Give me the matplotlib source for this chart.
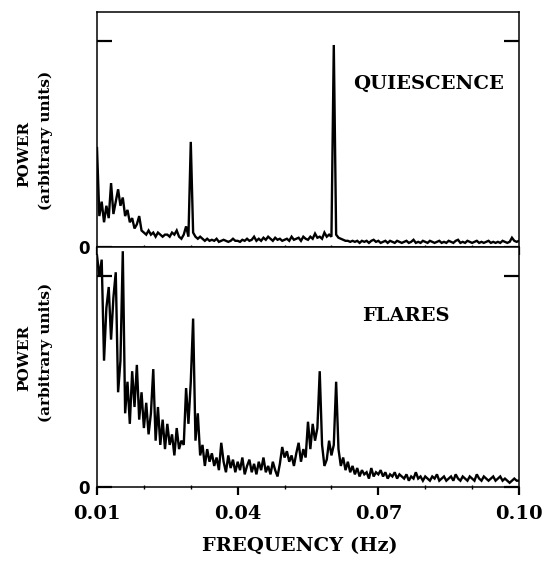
import numpy as np
import matplotlib
matplotlib.use("Agg")
import matplotlib.pyplot as plt
from matplotlib.ticker import MultipleLocator

# Frequency grid (Hz), 0.0005 Hz spacing from 0.010 to 0.100
freq_start = 0.010
freq_step = 0.0005

# Power spectrum during quiescence (arbitrary units)
power_quiet = [
    0.48, 0.15, 0.22, 0.12, 0.20, 0.14, 0.31, 0.16, 0.22, 0.28,
    0.20, 0.24, 0.15, 0.18, 0.12, 0.14, 0.09, 0.11, 0.15, 0.08,
    0.07, 0.06, 0.08, 0.06, 0.07, 0.05, 0.07, 0.06, 0.05, 0.06,
    0.06, 0.05, 0.07, 0.06, 0.08, 0.05, 0.04, 0.06, 0.10, 0.05,
    0.51, 0.07, 0.05, 0.04, 0.05, 0.04, 0.03, 0.04, 0.03, 0.035,
    0.03, 0.04, 0.025, 0.03, 0.035, 0.03, 0.025, 0.03, 0.04, 0.03,
    0.03, 0.025, 0.035, 0.03, 0.04, 0.03, 0.035, 0.05, 0.03, 0.04,
    0.03, 0.045, 0.035, 0.05, 0.04, 0.03, 0.045, 0.035, 0.04, 0.03,
    0.035, 0.04, 0.03, 0.05, 0.035, 0.04, 0.045, 0.03, 0.05, 0.04,
    0.035, 0.05, 0.04, 0.065, 0.045, 0.05, 0.04, 0.07, 0.05, 0.06,
    0.05, 0.98, 0.06, 0.045, 0.04, 0.035, 0.03, 0.03, 0.025, 0.03,
    0.025, 0.03, 0.02, 0.03, 0.025, 0.03, 0.02, 0.03, 0.035, 0.025,
    0.03, 0.02, 0.025, 0.03, 0.02, 0.03, 0.025, 0.02, 0.03, 0.025,
    0.02, 0.025, 0.03, 0.02, 0.025, 0.035, 0.02, 0.025, 0.02, 0.03,
    0.025, 0.02, 0.03, 0.025, 0.02, 0.025, 0.03, 0.02, 0.025, 0.02,
    0.03, 0.025, 0.02, 0.03, 0.035, 0.02, 0.025, 0.02, 0.03, 0.025,
    0.02, 0.025, 0.03, 0.02, 0.025, 0.02, 0.025, 0.03, 0.02, 0.025,
    0.02, 0.025, 0.02, 0.03, 0.025, 0.02, 0.025, 0.045, 0.03, 0.025,
    0.03,
]

# Power spectrum during flares (arbitrary units)
power_flares = [
    1.10, 1.00, 1.08, 0.60, 0.85, 0.95, 0.70, 0.90, 1.02, 0.45,
    0.60, 1.12, 0.35, 0.50, 0.30, 0.55, 0.38, 0.58, 0.32, 0.45,
    0.28, 0.40, 0.25, 0.35, 0.56, 0.22, 0.38, 0.20, 0.32, 0.18,
    0.30, 0.20, 0.25, 0.15, 0.28, 0.18, 0.22, 0.20, 0.47, 0.30,
    0.50, 0.80, 0.22, 0.35, 0.15, 0.20, 0.10, 0.18, 0.12, 0.16,
    0.10, 0.14, 0.08, 0.21, 0.12, 0.07, 0.15, 0.09, 0.13, 0.07,
    0.12, 0.08, 0.14, 0.06, 0.10, 0.13, 0.07, 0.11, 0.06, 0.12,
    0.08, 0.14, 0.07, 0.10, 0.06, 0.12, 0.08, 0.05, 0.11, 0.19,
    0.14, 0.17, 0.12, 0.15, 0.10, 0.16, 0.21, 0.12, 0.18, 0.14,
    0.31, 0.18, 0.30, 0.22, 0.28, 0.55, 0.20, 0.10, 0.13, 0.22,
    0.15, 0.20, 0.50, 0.18, 0.10, 0.14, 0.08, 0.12, 0.07, 0.10,
    0.06, 0.09, 0.05, 0.08, 0.06, 0.07, 0.04, 0.09, 0.05, 0.07,
    0.06, 0.08, 0.05, 0.07, 0.04, 0.06, 0.05, 0.07, 0.04, 0.06,
    0.05, 0.04, 0.06, 0.03, 0.05, 0.04, 0.07, 0.04, 0.05, 0.03,
    0.05, 0.04, 0.03, 0.05, 0.04, 0.06, 0.03, 0.04, 0.05, 0.03,
    0.04, 0.05, 0.03, 0.06, 0.04, 0.03, 0.05, 0.04, 0.03, 0.05,
    0.04, 0.03, 0.06, 0.04, 0.03, 0.05, 0.04, 0.03, 0.04, 0.05,
    0.03, 0.04, 0.05, 0.03, 0.04, 0.03, 0.02, 0.03, 0.04, 0.03,
    0.03,
]

xtick_vals = [0.01, 0.04, 0.07, 0.10]
xtick_labels = ["0.01", "0.04", "0.07", "0.10"]
panel_names = ["QUIESCENCE", "FLARES"]

freq = freq_start + freq_step * np.arange(len(power_quiet))

serif = "DejaVu Serif"
W, H = 548, 564

fig = plt.figure(figsize=(W / 100, H / 100), dpi=100)
left, right = 97 / W, 519 / W
ax_top = fig.add_axes([left, 1 - 247 / H, right - left, 235 / H])
ax_bot = fig.add_axes([left, 1 - 487 / H, right - left, 240 / H], sharex=ax_top)

for ax, power in [(ax_top, power_quiet), (ax_bot, power_flares)]:
    ax.plot(freq, power, color="black", lw=1.7, solid_joinstyle="miter")
    ax.set_xlim(0.01, 0.10)
    ax.set_ylim(0, 1.14)
    for s in ax.spines.values():
        s.set_linewidth(1.1)

    # y ticks: only the zero is labelled, the unit level gets an inward mark
    ax.set_yticks([0, 1.0])
    ax.set_yticklabels(["0", ""])
    ax.tick_params(axis="y", which="major", direction="in", length=11, width=1.6,
                   left=True, right=True, pad=5)
    for lab in ax.get_yticklabels():
        lab.set_fontfamily("DejaVu Sans")
        lab.set_fontweight("bold")
        lab.set_fontsize(12)

    ax.set_xticks(xtick_vals)
    ax.xaxis.set_minor_locator(MultipleLocator(0.01))
    ax.tick_params(axis="x", which="major", direction="out", length=6, width=1.6)
    ax.tick_params(axis="x", which="minor", direction="inout", length=3, width=1)

ax_top.tick_params(axis="x", labelbottom=False)
ax_bot.set_xticklabels(xtick_labels)
for lab in ax_bot.get_xticklabels():
    lab.set_fontfamily(serif)
    lab.set_fontweight("bold")
    lab.set_fontsize(14)
ax_bot.tick_params(axis="x", pad=7)

# panel names
ax_top.text(429 / W, 1 - 84 / H, panel_names[0], transform=fig.transFigure,
            ha="center", va="center", fontsize=14, fontweight="bold", family=serif)
ax_bot.text(406 / W, 1 - 316 / H, panel_names[1], transform=fig.transFigure,
            ha="center", va="center", fontsize=14, fontweight="bold", family=serif)

# y axis labels
for yc_power, yc_units in [(154, 140), (358, 352)]:
    fig.text(24 / W, 1 - yc_power / H, "POWER", rotation=90, ha="center", va="center",
             fontsize=11, fontweight="bold", family=serif)
    fig.text(46 / W, 1 - yc_units / H, "(arbitrary units)", rotation=90, ha="center",
             va="center", fontsize=11, fontweight="bold", family=serif)

fig.text(300 / W, 1 - 546 / H, "FREQUENCY (Hz)", ha="center", va="center",
         fontsize=14, fontweight="bold", family=serif)

fig.savefig("out.png", dpi=100)
